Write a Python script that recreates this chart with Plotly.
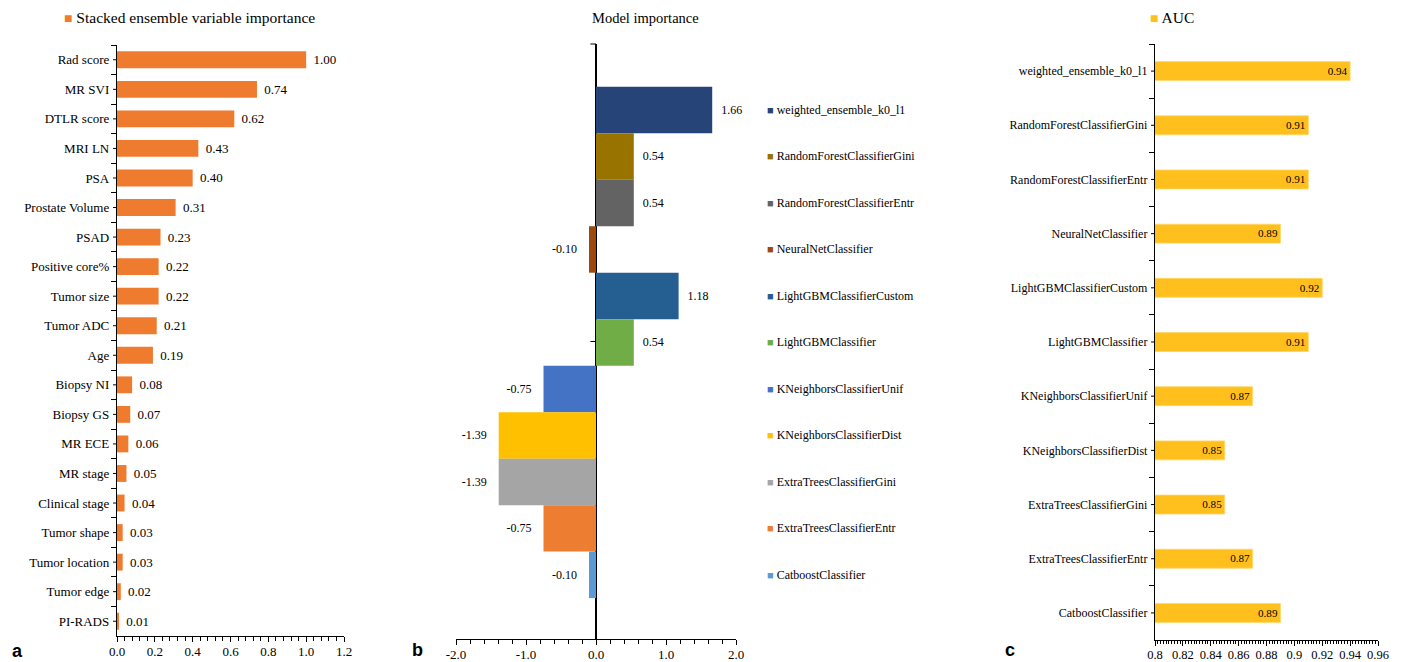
import plotly.graph_objects as go

# ---- data -------------------------------------------------------------
features = ["Rad score", "MR SVI", "DTLR score", "MRI LN", "PSA", "Prostate Volume",
            "PSAD", "Positive core%", "Tumor size", "Tumor ADC", "Age", "Biopsy NI",
            "Biopsy GS", "MR ECE", "MR stage", "Clinical stage", "Tumor shape",
            "Tumor location", "Tumor edge", "PI-RADS"]
feature_importance = [1.00, 0.74, 0.62, 0.43, 0.40, 0.31, 0.23, 0.22, 0.22, 0.21, 0.19,
                      0.08, 0.07, 0.06, 0.05, 0.04, 0.03, 0.03, 0.02, 0.01]

models = ["weighted_ensemble_k0_l1", "RandomForestClassifierGini",
          "RandomForestClassifierEntr", "NeuralNetClassifier",
          "LightGBMClassifierCustom", "LightGBMClassifier",
          "KNeighborsClassifierUnif", "KNeighborsClassifierDist",
          "ExtraTreesClassifierGini", "ExtraTreesClassifierEntr",
          "CatboostClassifier"]
model_importance = [1.66, 0.54, 0.54, -0.10, 1.18, 0.54, -0.75, -1.39, -1.39, -0.75, -0.10]
model_colors = ["#264478", "#997300", "#636363", "#9E480E", "#255E91", "#70AD47",
                "#4472C4", "#FFC000", "#A5A5A5", "#ED7D31", "#5B9BD5"]
auc = [0.94, 0.91, 0.91, 0.89, 0.92, 0.91, 0.87, 0.85, 0.85, 0.87, 0.89]

importance_ticks = [-2.0, -1.0, 0.0, 1.0, 2.0]
importance_ticktext = ["-2.0", "-1.0", "0.0", "1.0", "2.0"]
auc_ticks = [0.8, 0.82, 0.84, 0.86, 0.88, 0.9, 0.92, 0.94, 0.96]
auc_ticktext = ["0.8", "0.82", "0.84", "0.86", "0.88", "0.9", "0.92", "0.94", "0.96"]

# ---- style ------------------------------------------------------------
W, H = 1401, 662
SERIF = "Liberation Serif"
ORANGE = "#EF7B2F"
GOLD = "#FFC01E"
GAP_S = "\u2004"   # narrow spacer between a bar end and its label
GAP_L = "\u2002\u2005"


def px_x(p):
    return p / W


def px_y(p):
    return (H - p) / H


def outside_label(v):
    s = f"{v:.2f}"
    return GAP_L[:1] + s if v >= 0 else s + GAP_L


fig = go.Figure()

# (a) stacked ensemble variable importance
fig.add_trace(go.Bar(
    x=feature_importance, y=features, orientation="h",
    marker=dict(color=ORANGE, line=dict(width=0)), width=0.57,
    text=[GAP_S + f"{v:.2f}" for v in feature_importance], textposition="outside",
    textfont=dict(family=SERIF, size=13, color="black"), cliponaxis=False,
    xaxis="x", yaxis="y", hoverinfo="x+y"))

# (b) model importance
fig.add_trace(go.Bar(
    x=model_importance, y=models, orientation="h",
    marker=dict(color=model_colors, line=dict(width=0)), width=1.0,
    text=[outside_label(v) for v in model_importance], textposition="outside",
    textfont=dict(family=SERIF, size=12, color="black"), cliponaxis=False,
    xaxis="x2", yaxis="y2", hoverinfo="x+y"))

# (c) AUC
fig.add_trace(go.Bar(
    x=auc, y=models, orientation="h",
    marker=dict(color=GOLD, line=dict(width=0.8, color="#FFD768")), width=0.35,
    text=[f"{v:.2f}" for v in auc], textposition="inside", insidetextanchor="end",
    textfont=dict(family=SERIF, size=12, color="black"),
    xaxis="x3", yaxis="y3", hoverinfo="x+y"))

axis_common = dict(showline=True, linecolor="black", linewidth=1.3, showgrid=False,
                   zeroline=False, ticks="outside", tickcolor="black", ticklen=5,
                   tickwidth=1, automargin=False)

fig.update_layout(
    width=W, height=H, margin=dict(l=0, r=0, t=0, b=0, autoexpand=False),
    paper_bgcolor="white", plot_bgcolor="white", showlegend=False,
    font=dict(family=SERIF, size=12, color="black"),
    xaxis=dict(domain=[px_x(117), px_x(344)], anchor="y", range=[0, 1.2], dtick=0.2,
               tickformat=".1f", tickfont=dict(size=13), ticklabelstandoff=-2,
               minor=dict(dtick=0.04, ticks="outside", ticklen=4, tickcolor="black"),
               **axis_common),
    yaxis=dict(domain=[px_y(636), px_y(45)], anchor="x", type="category",
               categoryorder="array", categoryarray=features, autorange="reversed",
               tickson="boundaries", tickfont=dict(size=13), ticklabelstandoff=4,
               **axis_common),
    xaxis2=dict(domain=[px_x(456), px_x(736)], anchor="y2", range=[-2, 2],
                tickvals=importance_ticks, ticktext=importance_ticktext,
                tickfont=dict(size=13), layer="above traces", ticklabelstandoff=-2,
                minor=dict(dtick=0.2, ticks="outside", ticklen=4, tickcolor="black"),
                showline=True, linecolor="black", linewidth=1.3, showgrid=False,
                ticks="outside", tickcolor="black", ticklen=5, automargin=False,
                zeroline=True, zerolinecolor="black", zerolinewidth=1.5),
    yaxis2=dict(domain=[px_y(639), px_y(44)], anchor="x2", type="category",
                categoryorder="array", categoryarray=models,
                range=[len(models) - 0.5 + 0.88, -0.5 - 0.92],
                showticklabels=False, ticks="", showline=False, showgrid=False,
                zeroline=False, automargin=False),
    xaxis3=dict(domain=[px_x(1155), px_x(1378)], anchor="y3", range=[0.8, 0.96],
                tickvals=auc_ticks, ticktext=auc_ticktext, tickfont=dict(size=12.5),
                ticklabelstandoff=-2,
                minor=dict(dtick=0.002, tick0=0.8, ticks="outside", ticklen=3,
                           tickcolor="black"),
                **axis_common),
    yaxis3=dict(domain=[px_y(640), px_y(44)], anchor="x3", type="category",
                categoryorder="array", categoryarray=models, autorange="reversed",
                tickson="boundaries", tickfont=dict(size=12), ticklabelstandoff=4,
                **axis_common),
)

shapes = []
# short ticks at the centre of each category (panels a and c)
for f in features:
    shapes.append(dict(type="line", xref="x domain", yref="y", x0=-4 / 227, x1=0,
                       y0=f, y1=f, line=dict(color="black", width=1)))
for m in models:
    shapes.append(dict(type="line", xref="x3 domain", yref="y3", x0=-4 / 223, x1=0,
                       y0=m, y1=m, line=dict(color="black", width=1)))
# vertical axis of panel b crosses at zero: ticks at top and centre
for yd in (1.0, 0.5):
    shapes.append(dict(type="line", xref="x2", yref="y2 domain", x0=-0.08, x1=0,
                       y0=yd, y1=yd, line=dict(color="black", width=1)))
fig.update_layout(shapes=shapes)

annotations = []


def square(color, size):
    return f"<span style='color:{color};font-size:{size}px'>■</span>"


# panel headers
annotations.append(dict(xref="paper", yref="paper", x=px_x(62), y=px_y(18),
                        xanchor="left", yanchor="middle", showarrow=False,
                        text=square(ORANGE, 14) + " Stacked ensemble variable importance",
                        font=dict(family=SERIF, size=15.5)))
annotations.append(dict(xref="paper", yref="paper", x=px_x(645), y=px_y(18),
                        xanchor="center", yanchor="middle", showarrow=False,
                        text="Model importance", font=dict(family=SERIF, size=14.5)))
annotations.append(dict(xref="paper", yref="paper", x=px_x(1148), y=px_y(18),
                        xanchor="left", yanchor="middle", showarrow=False,
                        text=square(GOLD, 14) + " AUC",
                        font=dict(family=SERIF, size=15.5)))
# legend of panel b, one entry per model next to its bar
for m, c in zip(models, model_colors):
    annotations.append(dict(xref="paper", yref="y2", x=px_x(765), y=m,
                            xanchor="left", yanchor="middle", showarrow=False,
                            text=square(c, 11) + " " + m,
                            font=dict(family=SERIF, size=12)))
# panel letters
for letter, xp, yp in (("a", 10, 651), ("b", 410, 650), ("c", 1003, 650)):
    annotations.append(dict(xref="paper", yref="paper", x=px_x(xp), y=px_y(yp),
                            xanchor="left", yanchor="middle", showarrow=False,
                            text=f"<b>{letter}</b>",
                            font=dict(family="Liberation Sans", size=18)))
fig.update_layout(annotations=annotations)

fig.write_html("out.html")
